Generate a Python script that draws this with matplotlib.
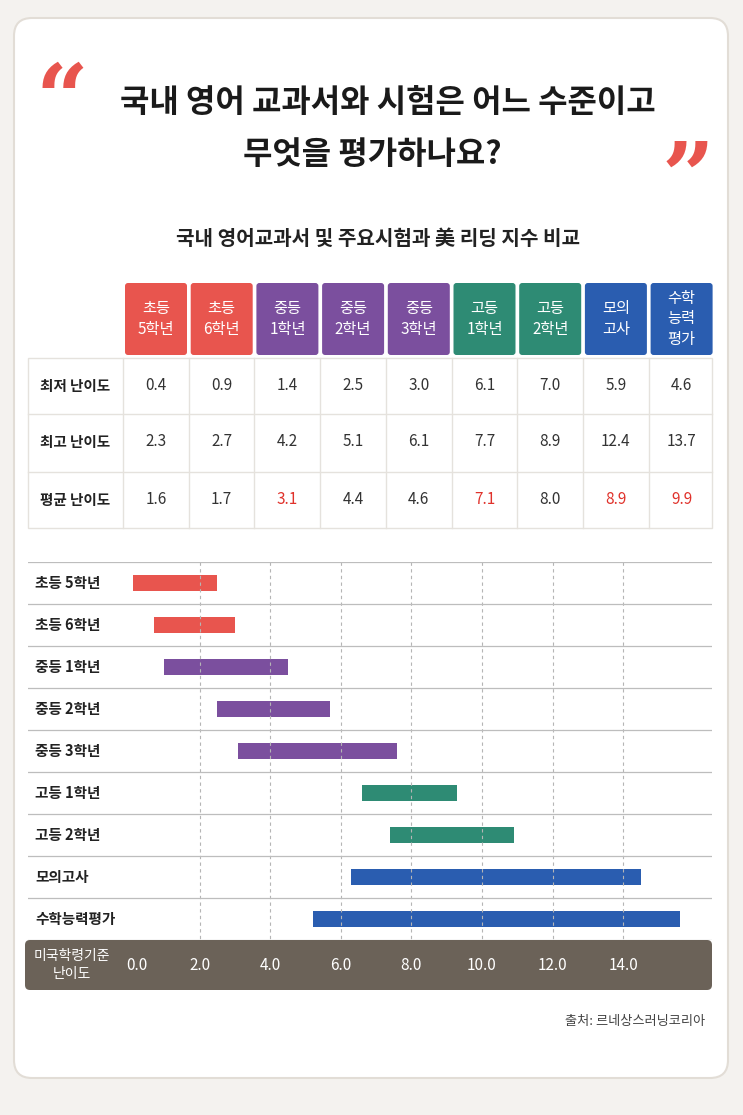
import matplotlib
matplotlib.use("Agg")
import matplotlib.pyplot as plt
from matplotlib.patches import FancyBboxPatch, Rectangle

plt.rcParams['font.family'] = ['Noto Sans CJK KR', 'DejaVu Sans']

headers = ["초등\n5학년", "초등\n6학년", "중등\n1학년", "중등\n2학년", "중등\n3학년", "고등\n1학년", "고등\n2학년", "모의\n고사", "수학\n능력\n평가"]
groups = [0, 0, 1, 1, 1, 2, 2, 3, 3]
row_labels = ["최저 난이도", "최고 난이도", "평균 난이도"]
min_vals = [0.4, 0.9, 1.4, 2.5, 3.0, 6.1, 7.0, 5.9, 4.6]
max_vals = [2.3, 2.7, 4.2, 5.1, 6.1, 7.7, 8.9, 12.4, 13.7]
avg_vals = [1.6, 1.7, 3.1, 4.4, 4.6, 7.1, 8.0, 8.9, 9.9]
avg_red = [False, False, True, False, False, True, False, True, True]
bar_labels = ["초등 5학년", "초등 6학년", "중등 1학년", "중등 2학년", "중등 3학년", "고등 1학년", "고등 2학년", "모의고사", "수학능력평가"]
bar_start = [0.1, 0.7, 1.0, 2.5, 3.1, 6.6, 7.4, 6.3, 5.2]
bar_end = [2.5, 3.0, 4.5, 5.7, 7.6, 9.3, 10.9, 14.5, 15.6]
ticks = [0.0, 2.0, 4.0, 6.0, 8.0, 10.0, 12.0, 14.0]
colors = ["#e8554e", "#7b4f9e", "#2e8b74", "#2a5db0"]

W, H = 743, 1115
fig = plt.figure(figsize=(W/100, H/100), dpi=100)
fig.patch.set_facecolor("#f4f2ef")
ax = fig.add_axes([0, 0, 1, 1])
ax.set_xlim(0, W); ax.set_ylim(H, 0); ax.axis("off")

ax.add_patch(FancyBboxPatch((14, 18), 714, 1060, boxstyle="round,pad=0,rounding_size=18",
                            fc="white", ec="#e2ddd6", lw=1.5))
ax.text(62, 105, "\u201c", color="#e8554e", fontsize=66, fontweight="bold", ha="center", va="center", family="DejaVu Serif")
ax.text(688, 182, "\u201d", color="#e8554e", fontsize=66, fontweight="bold", ha="center", va="center", family="DejaVu Serif")
ax.text(388, 103, "국내 영어 교과서와 시험은 어느 수준이고", fontsize=23, fontweight="bold", ha="center", va="center", color="#1a1a1a")
ax.text(372, 155, "무엇을 평가하나요?", fontsize=23, fontweight="bold", ha="center", va="center", color="#1a1a1a")
ax.text(378, 238, "국내 영어교과서 및 주요시험과 美 리딩 지수 비교", fontsize=14.5, fontweight="bold", ha="center", va="center", color="#222")

# table
cx = [156 + 65.7*i for i in range(9)]
ax.add_patch(Rectangle((28, 358), 684, 170, fc="white", ec="#e5e2dd", lw=1))
for i, (x, h) in enumerate(zip(cx, headers)):
    ax.add_patch(FancyBboxPatch((x-31, 283), 62, 72, boxstyle="round,pad=0,rounding_size=3",
                                fc=colors[groups[i]], ec="none"))
    ax.text(x, 319, h, color="white", fontsize=11, fontweight="medium", ha="center", va="center", linespacing=1.3)
    ax.plot([x-33, x-33], [358, 528], color="#e5e2dd", lw=1)
for r, y in enumerate([386, 442, 500]):
    ax.text(75, y, row_labels[r], fontsize=10.5, fontweight="bold", ha="center", va="center", color="#222")
    if r > 0:
        ax.plot([28, 712], [y-28, y-28], color="#e5e2dd", lw=1)
for i, x in enumerate(cx):
    ax.text(x, 386, f"{min_vals[i]:.1f}", fontsize=11, ha="center", va="center", color="#333")
    ax.text(x, 442, f"{max_vals[i]:.1f}", fontsize=11, ha="center", va="center", color="#333")
    ax.text(x, 500, f"{avg_vals[i]:.1f}", fontsize=11, ha="center", va="center",
            color="#e0322b" if avg_red[i] else "#333")

# gantt
x0px, scale = 129, 35.3
g = fig.add_axes([28/W, 1-940/H, 684/W, 378/H])
g.set_xlim((28-x0px)/scale, (712-x0px)/scale)
g.set_ylim(9, 0)
g.axis("off")
for t in ticks[1:]:
    g.plot([t, t], [0, 9], color="#b5b5b5", lw=0.8, ls=(0, (3, 3)))
for k in range(10):
    g.plot(g.get_xlim(), [k, k], color="#bdbdbd", lw=0.9)
for k in range(9):
    g.barh(k+0.5, bar_end[k]-bar_start[k], left=bar_start[k], height=0.36,
           color=colors[groups[k]])
    g.text((35-x0px)/scale, k+0.5, bar_labels[k], fontsize=10.5, fontweight="bold", va="center", ha="left", color="#222")

ax.add_patch(FancyBboxPatch((25, 940), 687, 50, boxstyle="round,pad=0,rounding_size=5", fc="#6b6258", ec="none"))
ax.text(72, 965, "미국학령기준\n난이도", color="white", fontsize=10, ha="center", va="center", linespacing=1.3)
for t in ticks:
    px = x0px + scale*t + (8 if t == 0 else 0)
    ax.text(px, 966, f"{t:.1f}", color="white", fontsize=11, ha="center", va="center")
ax.text(705, 1022, "출처: 르네상스러닝코리아", fontsize=9.5, ha="right", va="center", color="#444")

fig.savefig("out.png", dpi=100, facecolor=fig.get_facecolor())
